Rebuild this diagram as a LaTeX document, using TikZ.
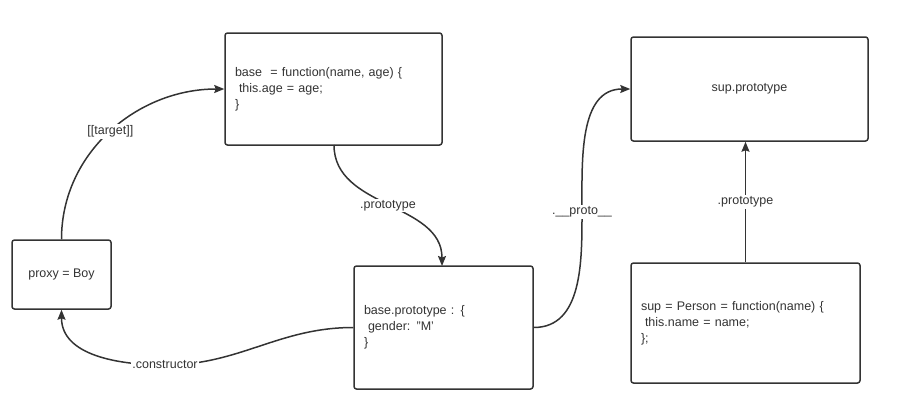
\documentclass[tikz,border=0pt]{standalone}
\usepackage{fontspec}
\setmainfont{Liberation Sans}
\usetikzlibrary{arrows.meta}
\definecolor{ink}{HTML}{333333}
\tikzset{
  box/.style={draw=ink, line width=1.5pt, rounded corners=2.5pt, text=ink, font=\fontsize{12.5}{16}\selectfont, inner sep=0pt},
  conn/.style={draw=ink, line width=1.5pt, -{Stealth[length=10pt,width=8pt,inset=1.5pt]}},
  plain/.style={draw=ink, line width=1.5pt},
  lbl/.style={fill=white, text=ink, font=\fontsize{12.5}{14}\selectfont, inner sep=1.5pt}
}
\begin{document}
\begin{tikzpicture}[x=1pt,y=-1pt]
\useasboundingbox (0,0) rectangle (918,413);
% boxes
\node[box, minimum width=217pt, minimum height=112pt, text width=197pt, align=left] (base) at (333.5,89)
  {\vspace*{0pt}base~~= function(name, age) \{\\\hspace*{4pt}this.age = age;\\\}};
\node[box, minimum width=99pt, minimum height=69pt, align=center] (proxy) at (61.5,274.5) {proxy = Boy};
\node[box, minimum width=179pt, minimum height=123pt, text width=159pt, align=left] (bp) at (443.5,327.5)
  {base.prototype : \{\\\hspace*{4pt}gender: "M'\\\}};
\node[box, minimum width=237pt, minimum height=104pt, align=center] (sp) at (749.5,89) {sup.prototype};
\node[box, minimum width=229pt, minimum height=120pt, text width=209pt, align=left] (sup) at (745.5,323)
  {sup = Person = function(name) \{\\\hspace*{4pt}this.name = name;\\\};};
% connectors
\draw[conn] (proxy.north) to[out=90,in=180] node[lbl, pos=0.5] {[[target]]} (base.west);
\coordinate (bs) at (334,145);
\coordinate (bpt) at (442,266);
\draw[conn] (bs) to[out=-90,in=90] node[lbl, pos=0.5] {.prototype} (bpt);
\coordinate (cmid) at (165,365);
\draw[plain] (bp.west) to[out=180,in=0] (cmid);
\draw[conn] (cmid) to[out=180,in=-90] (proxy.south);
\node[lbl] (clab) at (cmid) {.constructor};
\coordinate (pmid) at (582,212);
\draw[plain] (bp.east) to[out=0,in=-90] (pmid);
\draw[conn] (pmid) to[out=90,in=180] (sp.west);
\node[lbl] (plab) at (pmid) {.\_\_proto\_\_};
\coordinate (spb) at (sup.north |- sp.south);
\draw[conn] (sup.north) -- node[lbl, pos=0.5] {.prototype} (spb);
\end{tikzpicture}
\end{document}
